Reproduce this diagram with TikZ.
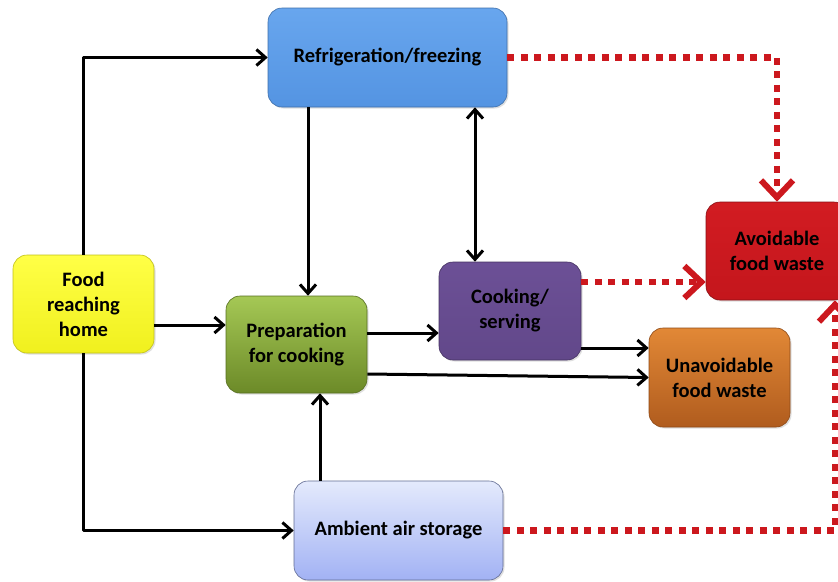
\documentclass[tikz,border=0pt]{standalone}
\usepackage{fontspec}
\setmainfont{Carlito}
\usetikzlibrary{arrows.meta,shadows}
\definecolor{fridgetop}{RGB}{104,166,238}
\definecolor{fridgebot}{RGB}{84,148,226}
\definecolor{foodtop}{RGB}{255,255,70}
\definecolor{foodbot}{RGB}{240,240,30}
\definecolor{preptop}{RGB}{165,200,85}
\definecolor{prepbot}{RGB}{108,138,40}
\definecolor{cooktop}{RGB}{108,80,150}
\definecolor{cookbot}{RGB}{98,72,138}
\definecolor{avoidtop}{RGB}{210,28,34}
\definecolor{avoidbot}{RGB}{196,22,28}
\definecolor{unavtop}{RGB}{226,136,54}
\definecolor{unavbot}{RGB}{176,92,30}
\definecolor{ambtop}{RGB}{228,234,252}
\definecolor{ambbot}{RGB}{162,178,244}
\definecolor{wastered}{RGB}{204,24,30}
\begin{document}
\begin{tikzpicture}[x=1pt, y=-1pt, line join=round,
    box/.style={rounded corners=14pt, draw=#1, line width=.6pt, align=center,
      inner sep=0pt, font=\bfseries\fontsize{20.5}{25}\selectfont,
      drop shadow={shadow xshift=1.5pt, shadow yshift=-1.5pt, opacity=.25}},
    flow/.style={line width=3pt, -{Straight Barb[length=9pt,width=16pt]}},
    flowboth/.style={line width=3pt, {Straight Barb[length=9pt,width=16pt]}-{Straight Barb[length=9pt,width=16pt]}},
    waste/.style={wastered, line width=6.5pt, dash pattern=on 7pt off 6.5pt,
      -{Straight Barb[length=17pt,width=32pt,line width=6pt]}}]
  \useasboundingbox (0,0) rectangle (838,581);
  \clip (0,0) rectangle (838,581);
  % boxes
  \node[box=fridgebot!75!black, top color=fridgetop, bottom color=fridgebot,
    minimum width=239pt, minimum height=99pt] (fridge) at (387.5,57.5) {Refrigeration/freezing};
  \node[box=foodbot!80!black, top color=foodtop, bottom color=foodbot,
    minimum width=141pt, minimum height=98pt] (food) at (83.5,304) {Food\\reaching\\home};
  \node[box=prepbot!80!black, top color=preptop, bottom color=prepbot,
    minimum width=141pt, minimum height=97pt] (prep) at (296.5,344.5) {Preparation\\for cooking};
  \node[box=cookbot!70!black, top color=cooktop, bottom color=cookbot,
    minimum width=142pt, minimum height=98pt] (cook) at (510,311) {Cooking/\\serving};
  \node[box=avoidbot!70!black, top color=avoidtop, bottom color=avoidbot,
    minimum width=142pt, minimum height=98pt] (avoid) at (777,251) {Avoidable\\food waste};
  \node[box=unavbot!80!black, top color=unavtop, bottom color=unavbot,
    minimum width=141pt, minimum height=99pt] (unav) at (719.5,377.5) {Unavoidable\\food waste};
  \node[box=ambbot!60!black, top color=ambtop, bottom color=ambbot,
    minimum width=209pt, minimum height=99pt] (amb) at (398.5,530.5) {Ambient air storage};
  % helper points
  \coordinate (p1) at ([yshift=19.5pt]prep.west);
  \coordinate (p2) at ([xshift=11.5pt]prep.north);
  \coordinate (c1) at ([xshift=-35pt]cook.north);
  \coordinate (p3) at ([yshift=11.5pt]prep.east);
  \coordinate (p4) at ([yshift=-29.5pt]prep.east);
  \coordinate (c2) at ([yshift=-37pt]cook.east);
  \coordinate (c3) at ([yshift=29pt]cook.east);
  \coordinate (a1) at ([xshift=-78.5pt]amb.north);
  \coordinate (w1) at ([xshift=58pt]avoid.south);
  % black flows
  \draw[flow] (food.north) |- (fridge.west);
  \draw[flow] (food.south) |- (amb.west);
  \draw[flow] (food.east |- p1) -- (p1);
  \draw[flow] (fridge.south -| p2) -- (p2);
  \draw[flowboth] (fridge.south -| c1) -- (c1);
  \draw[flow] (p3) -- (p3 -| cook.west);
  \draw[flow] (p4) -- (unav.west);
  \draw[flow] (c2) -- (c2 -| unav.west);
  \draw[flow] (a1) -- (a1 |- prep.south);
  % waste flows
  \draw[waste] (fridge.east) -| (avoid.north);
  \draw[waste] (c3) -- (c3 -| avoid.west);
  \draw[waste] (amb.east) -| (w1);
\end{tikzpicture}
\end{document}
